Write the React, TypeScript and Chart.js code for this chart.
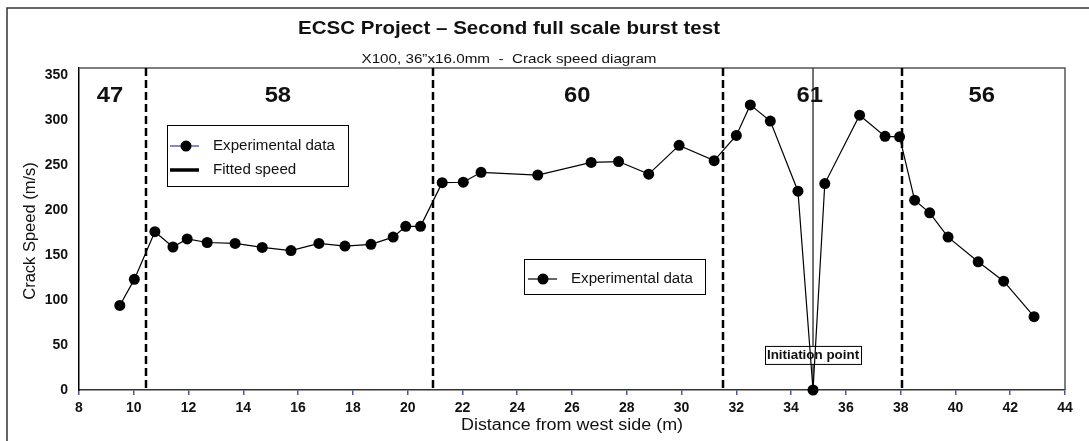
import React, { useEffect, useRef } from 'react';
import { Chart, registerables } from 'chart.js';

Chart.register(...registerables);

// ---- data ----
const distances = [
  9.49, 10.02, 10.77, 11.43, 11.95, 12.68, 13.7, 14.69, 15.74, 16.76, 17.71, 18.66, 19.47,
  19.93, 20.47, 21.26, 22.03, 22.68, 24.75, 26.7, 27.7, 28.8, 29.91, 31.19, 32.0, 32.51,
  33.24, 34.25, 34.8, 35.23, 36.5, 37.43, 37.96, 38.51, 39.06, 39.73, 40.83, 41.76, 42.87,
];
const speeds = [
  94, 123, 176, 159, 168, 164, 163, 158.5, 155, 163, 160, 162, 170,
  182, 182, 230.5, 231, 242, 239, 253, 254, 240, 272, 255, 283, 317,
  299, 221, 0, 229.5, 305.5, 282, 281.5, 211, 197, 170, 142.5, 121, 81.5,
];
const zoneBoundaries = [10.43, 20.93, 31.51, 38.06];
const initiationDistance = 34.8;
const zoneLabels = ['47', '58', '60', '61', '56'];
const zoneLabelDistances = [9.13, 15.26, 26.19, 34.68, 40.96];

const titleText = 'ECSC Project \u2013 Second full scale burst test';
const subtitleText = 'X100, 36\u201Dx16.0mm  -  Crack speed diagram';
const xAxisTitle = 'Distance from west side (m)';
const yAxisTitle = 'Crack Speed (m/s)';
const legendExperimental = 'Experimental data';
const legendFitted = 'Fitted speed';
const initiationText = 'Initiation point';

const FONT = '"Liberation Sans", Arial, Helvetica, sans-serif';

function stretchedText(
  ctx: CanvasRenderingContext2D,
  text: string,
  x: number,
  y: number,
  font: string,
  align: CanvasTextAlign,
  sx: number,
) {
  ctx.save();
  ctx.font = font;
  ctx.textAlign = align;
  ctx.textBaseline = 'middle';
  ctx.translate(x, y);
  ctx.scale(sx, 1);
  ctx.fillText(text, 0, 0);
  ctx.restore();
}

const overlay = {
  id: 'overlay',
  beforeDatasetsDraw(chart: any) {
    const { ctx, chartArea: a, scales } = chart;
    const x = scales.x;
    const y = scales.y;
    ctx.save();
    // frame top & right
    ctx.strokeStyle = '#555';
    ctx.lineWidth = 1.5;
    ctx.beginPath();
    ctx.moveTo(a.left, a.top);
    ctx.lineTo(a.right, a.top);
    ctx.lineTo(a.right, a.bottom);
    ctx.stroke();

    // dashed zone boundaries
    ctx.strokeStyle = '#000';
    ctx.lineWidth = 2.5;
    ctx.setLineDash([8, 4]);
    zoneBoundaries.forEach((v) => {
      const px = Math.round(x.getPixelForValue(v));
      ctx.beginPath();
      ctx.moveTo(px, a.top);
      ctx.lineTo(px, a.bottom);
      ctx.stroke();
    });
    ctx.setLineDash([]);

    // initiation vertical line
    const ix = x.getPixelForValue(initiationDistance);
    ctx.strokeStyle = '#444';
    ctx.lineWidth = 1.5;
    ctx.beginPath();
    ctx.moveTo(ix, a.top);
    ctx.lineTo(ix, a.bottom);
    ctx.stroke();

    // zone labels
    ctx.fillStyle = '#111';
    zoneLabels.forEach((t, i) => {
      stretchedText(ctx, t, x.getPixelForValue(zoneLabelDistances[i]), a.top + 28, `bold 22px ${FONT}`, 'center', 1.08);
    });

    // initiation label
    const cy = y.getPixelForValue(39);
    ctx.fillStyle = '#fff';
    ctx.fillRect(ix - 48, cy - 9, 96, 18);
    ctx.strokeStyle = '#000';
    ctx.lineWidth = 1;
    ctx.strokeRect(ix - 48 + 0.5, cy - 9 + 0.5, 96, 18);
    ctx.fillStyle = '#111';
    stretchedText(ctx, initiationText, ix, cy + 1, `bold 13px ${FONT}`, 'center', 1.03);
    ctx.restore();
  },
  afterDraw(chart: any) {
    const { ctx, chartArea: a } = chart;
    ctx.save();
    // outer border (left + top)
    ctx.strokeStyle = '#333';
    ctx.lineWidth = 1.5;
    ctx.beginPath();
    ctx.moveTo(7, 441);
    ctx.lineTo(7, 8);
    ctx.lineTo(1089, 8);
    ctx.stroke();

    // title / subtitle
    ctx.fillStyle = '#111';
    stretchedText(ctx, titleText, 509, 29, `bold 18px ${FONT}`, 'center', 1.14);
    stretchedText(ctx, subtitleText, 509, 59, `13px ${FONT}`, 'center', 1.17);

    // axis titles
    stretchedText(ctx, xAxisTitle, (a.left + a.right) / 2, 426, `16px ${FONT}`, 'center', 1.12);
    ctx.save();
    ctx.translate(30, (a.top + a.bottom) / 2 + 2);
    ctx.rotate(-Math.PI / 2);
    ctx.font = `16.5px ${FONT}`;
    ctx.textAlign = 'center';
    ctx.textBaseline = 'middle';
    ctx.fillText(yAxisTitle, 0, 0);
    ctx.restore();

    // legend 1
    const l1x = a.left + 88;
    const l1y = a.top + 57;
    ctx.fillStyle = '#fff';
    ctx.fillRect(l1x, l1y, 181, 61);
    ctx.strokeStyle = '#000';
    ctx.lineWidth = 1;
    ctx.strokeRect(l1x + 0.5, l1y + 0.5, 181, 61);
    // entry 1
    ctx.strokeStyle = '#3a3f9a';
    ctx.lineWidth = 1.2;
    ctx.beginPath();
    ctx.moveTo(l1x + 3, l1y + 21);
    ctx.lineTo(l1x + 32, l1y + 21);
    ctx.stroke();
    ctx.fillStyle = '#000';
    ctx.beginPath();
    ctx.arc(l1x + 19, l1y + 21, 5.5, 0, Math.PI * 2);
    ctx.fill();
    ctx.fillStyle = '#111';
    stretchedText(ctx, legendExperimental, l1x + 46, l1y + 21, `14px ${FONT}`, 'left', 1.08);
    // entry 2
    ctx.strokeStyle = '#000';
    ctx.lineWidth = 3.5;
    ctx.beginPath();
    ctx.moveTo(l1x + 3, l1y + 45);
    ctx.lineTo(l1x + 32, l1y + 45);
    ctx.stroke();
    stretchedText(ctx, legendFitted, l1x + 46, l1y + 45, `14px ${FONT}`, 'left', 1.08);

    // legend 2
    const l2x = a.left + 445;
    const l2y = a.top + 191;
    ctx.fillStyle = '#fff';
    ctx.fillRect(l2x, l2y, 181, 35);
    ctx.strokeStyle = '#000';
    ctx.lineWidth = 1;
    ctx.strokeRect(l2x + 0.5, l2y + 0.5, 181, 35);
    ctx.lineWidth = 1.2;
    ctx.beginPath();
    ctx.moveTo(l2x + 4, l2y + 20);
    ctx.lineTo(l2x + 33, l2y + 20);
    ctx.stroke();
    ctx.fillStyle = '#000';
    ctx.beginPath();
    ctx.arc(l2x + 19, l2y + 20, 5.5, 0, Math.PI * 2);
    ctx.fill();
    ctx.fillStyle = '#111';
    stretchedText(ctx, legendExperimental, l2x + 47, l2y + 20, `14px ${FONT}`, 'left', 1.08);
    ctx.restore();
  },
};

export default function App() {
  const canvasRef = useRef<HTMLCanvasElement | null>(null);

  useEffect(() => {
    if (!canvasRef.current) return;
    Chart.defaults.font.family = FONT;
    const chart = new Chart(canvasRef.current, {
      type: 'line',
      data: {
        datasets: [
          {
            label: legendExperimental,
            data: distances.map((d, i) => ({ x: d, y: speeds[i] })),
            borderColor: '#000',
            borderWidth: 1.2,
            backgroundColor: '#000',
            pointBackgroundColor: '#000',
            pointBorderWidth: 0,
            pointRadius: 5.5,
            tension: 0,
            clip: false as any,
          },
        ],
      },
      options: {
        responsive: false,
        animation: false,
        events: [],
        layout: { padding: { left: 0, right: 24, top: 68, bottom: 0 } },
        plugins: {
          legend: { display: false },
          tooltip: { enabled: false },
          title: { display: false },
        },
        scales: {
          x: {
            type: 'linear',
            min: 8,
            max: 44,
            afterFit: (s: any) => {
              s.height = 51;
            },
            ticks: {
              stepSize: 2,
              color: '#111',
              padding: 5,
              maxRotation: 0,
              font: { size: 14, weight: 'bold' },
            },
            grid: {
              display: true,
              drawOnChartArea: false,
              drawTicks: true,
              tickLength: 5,
              color: '#4a55a8',
              lineWidth: 1.5,
            },
            border: { display: true, color: '#333', width: 1.5 },
            title: { display: false },
          },
          y: {
            type: 'linear',
            min: 0,
            max: 358,
            afterFit: (s: any) => {
              s.width = 79;
            },
            ticks: {
              stepSize: 50,
              includeBounds: false,
              color: '#111',
              padding: 11,
              font: { size: 14, weight: 'bold' },
            },
            grid: { display: false, drawTicks: false },
            border: { display: true, color: '#000', width: 1.5 },
            title: { display: false },
          },
        },
      },
      plugins: [overlay],
    } as any);
    return () => chart.destroy();
  }, []);

  return (
    <div style={{ position: 'fixed', left: 0, top: 0, width: 1089, height: 441, background: '#fff' }}>
      <canvas ref={canvasRef} width={1089} height={441} style={{ width: 1089, height: 441, display: 'block' }} />
    </div>
  );
}
